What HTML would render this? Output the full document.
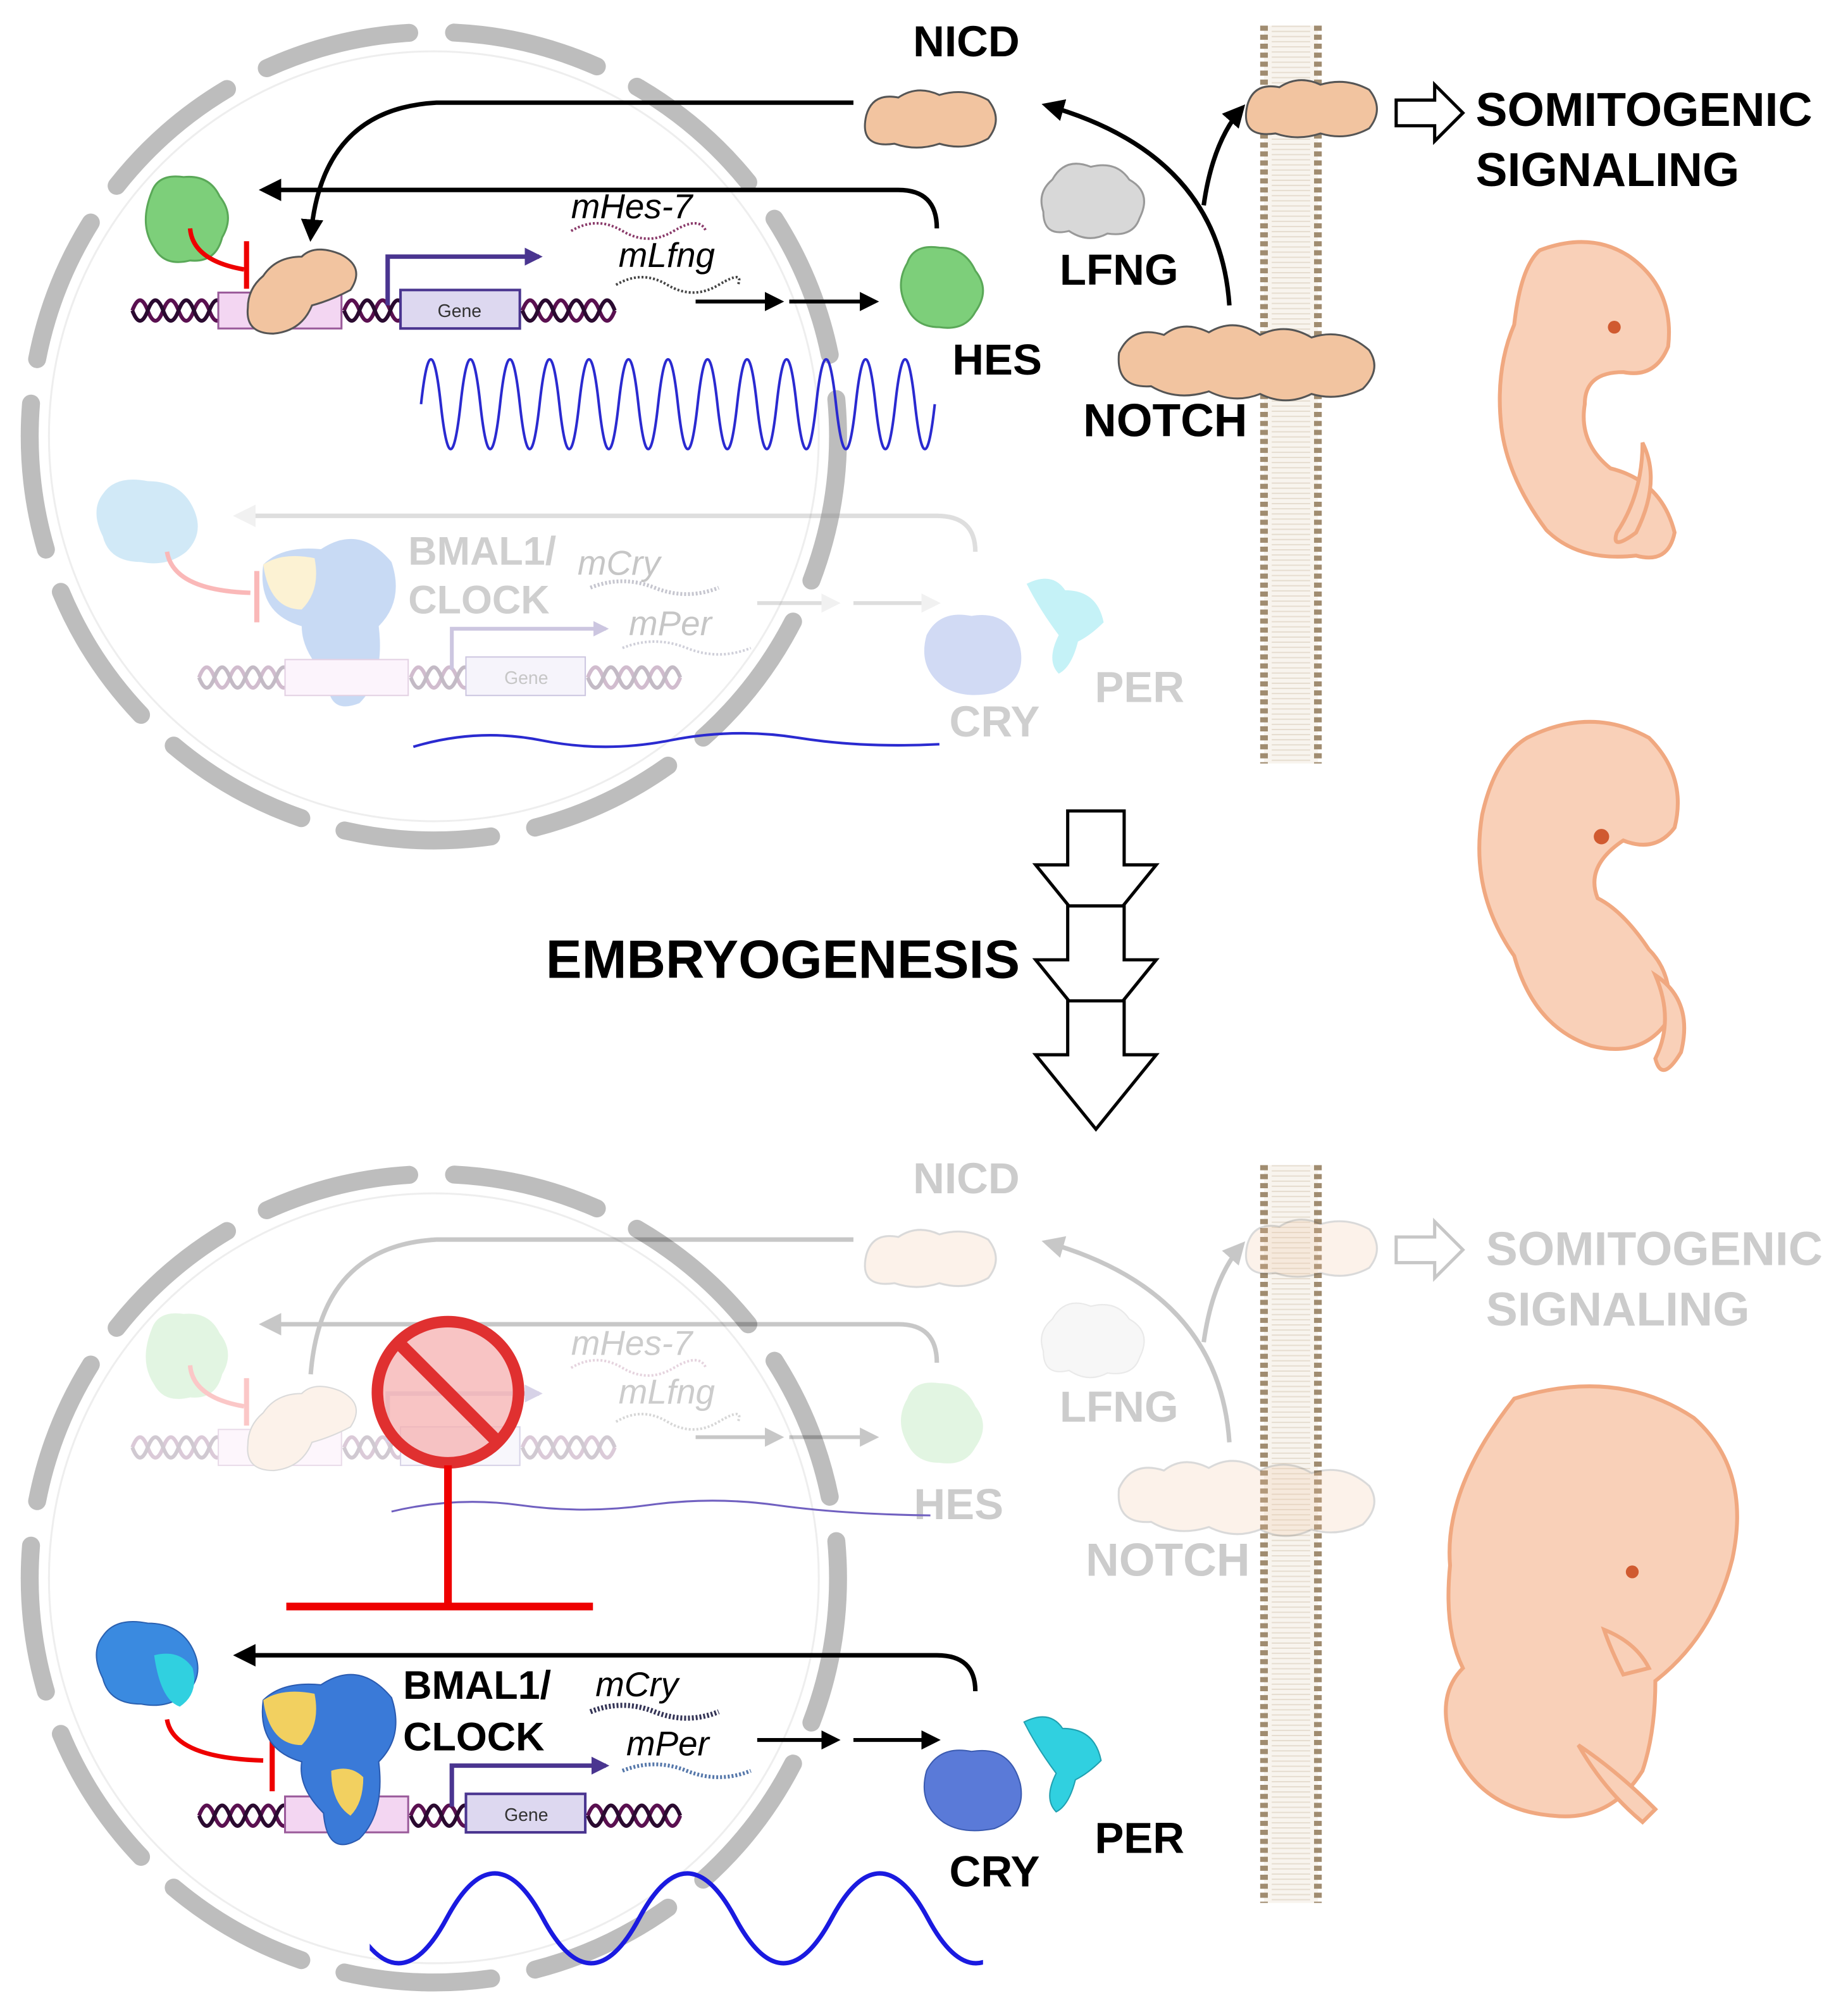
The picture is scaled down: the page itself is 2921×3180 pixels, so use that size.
<!DOCTYPE html>
<html><head><meta charset="utf-8"><style>
html,body{margin:0;padding:0;background:#fff}
svg{display:block}
text{font-family:"Liberation Sans",Arial,sans-serif}
</style></head><body>
<svg width="2921" height="3180" viewBox="0 0 1440 1568" xmlns="http://www.w3.org/2000/svg">
<defs>
<clipPath id="wclip"><rect x="288" y="1440" width="478" height="110"/></clipPath>
<marker id="ah" viewBox="0 0 10 10" refX="8" refY="5" markerWidth="5" markerHeight="5" orient="auto"><path d="M0,0 L10,5 L0,10 z" fill="#000"/></marker>
<marker id="ahg" viewBox="0 0 10 10" refX="8" refY="5" markerWidth="5" markerHeight="5" orient="auto"><path d="M0,0 L10,5 L0,10 z" fill="#ccc"/></marker>
<marker id="ahp" viewBox="0 0 10 10" refX="8" refY="5" markerWidth="4" markerHeight="4" orient="auto"><path d="M0,0 L10,5 L0,10 z" fill="#4a3590"/></marker>
<g id="nuc">
<ellipse cx="0" cy="0" rx="315" ry="315" fill="none" stroke="#bdbdbd" stroke-width="14" stroke-linecap="round" stroke-dasharray="115 35"/>
<ellipse cx="0" cy="0" rx="300" ry="300" fill="none" stroke="#eee" stroke-width="1.5"/>
</g>
<g id="helix">
<path d="M0 0 q6 -16 12 0 t12 0 t12 0 t12 0 t12 0 t12 0" fill="none" stroke="#5a1050" stroke-width="3"/>
<path d="M0 0 q6 16 12 0 t12 0 t12 0 t12 0 t12 0 t12 0" fill="none" stroke="#2a0a30" stroke-width="3"/>
</g>
<g id="membrane">
<rect x="985" y="0" width="42" height="575" fill="#f8f4ee"/>
<line x1="985" y1="0" x2="985" y2="575" stroke="#a08c70" stroke-width="6" stroke-dasharray="4 3"/>
<line x1="1027" y1="0" x2="1027" y2="575" stroke="#a08c70" stroke-width="6" stroke-dasharray="4 3"/>
<line x1="1006" y1="0" x2="1006" y2="575" stroke="#e6ddd0" stroke-width="30" stroke-dasharray="1 3"/>
</g>
<g id="notchblob">
<path d="M0 10 q10 -22 35 -14 q15 -12 35 -2 q20 -12 40 2 q20 -10 40 2 q25 -8 45 10 q10 15 -5 30 q-20 10 -40 4 q-20 10 -40 0 q-20 8 -40 -2 q-25 8 -45 -4 q-28 2 -25 -26z" fill="#f2c4a0" stroke="#555" stroke-width="1.5"/>
</g>
<g id="nicdblob">
<path d="M0 10 q5 -18 25 -14 q15 -10 32 -2 q20 -6 38 4 q12 15 0 30 q-18 10 -38 4 q-18 6 -35 0 q-28 4 -22 -22z" fill="#f2c4a0" stroke="#555" stroke-width="1.5"/>
</g>
</defs>

<use href="#nuc" x="338" y="340"/>
<use href="#membrane" x="0" y="20"/>

<use href="#nicdblob" x="675" y="80"/>
<use href="#nicdblob" x="972" y="72"/>
<use href="#notchblob" x="872" y="265"/>
<text x="753" y="44" font-size="34" font-weight="bold" text-anchor="middle">NICD</text>
<path d="M820 140 q10 -18 30 -10 q20 -5 30 10 q18 10 8 30 q-5 15 -25 12 q-15 8 -30 -2 q-20 5 -20 -15 q-5 -15 7 -25z" fill="#d8d8d8" stroke="#999" stroke-width="1.5"/>
<text x="872" y="222" font-size="34" font-weight="bold" text-anchor="middle">LFNG</text>
<text x="777" y="292" font-size="34" font-weight="bold" text-anchor="middle">HES</text>
<text x="908" y="340" font-size="36" font-weight="bold" text-anchor="middle">NOTCH</text>
<path d="M1088 78 h30 v-12 l22 22 l-22 22 v-12 h-30z" fill="#fff" stroke="#000" stroke-width="2.5"/>
<text x="1150" y="98" font-size="37" font-weight="bold">SOMITOGENIC</text>
<text x="1150" y="145" font-size="37" font-weight="bold">SIGNALING</text>

<path d="M665 80 H340 Q250 85 242 185" fill="none" stroke="#000" stroke-width="3.5" marker-end="url(#ah)"/>
<path d="M958 238 Q950 120 815 82" fill="none" stroke="#000" stroke-width="3.5" marker-end="url(#ah)"/>
<path d="M938 160 Q945 110 968 84" fill="none" stroke="#000" stroke-width="3.5" marker-end="url(#ah)"/>
<path d="M730 178 Q730 148 700 148 H205" fill="none" stroke="#000" stroke-width="3.5" marker-end="url(#ah)"/>
<path d="M542 235 H608" stroke="#000" stroke-width="3" marker-end="url(#ah)"/>
<path d="M615 235 H682" stroke="#000" stroke-width="3" marker-end="url(#ah)"/>

<path d="M118 150 q5 -15 25 -12 q20 -2 28 15 q12 15 2 32 q-5 20 -25 18 q-20 5 -28 -10 q-12 -18 -2 -43z" fill="#7dcf7a" stroke="#5aa858" stroke-width="1.5"/>
<path d="M707 205 q5 -15 25 -12 q20 0 28 18 q12 15 0 32 q-8 15 -28 12 q-18 0 -25 -15 q-10 -18 0 -35z" fill="#7dcf7a" stroke="#5aa858" stroke-width="1.5"/>
<path d="M148 178 Q150 203 190 210" fill="none" stroke="#e00" stroke-width="3.5"/>
<line x1="192" y1="188" x2="192" y2="225" stroke="#e00" stroke-width="4"/>
<use href="#helix" x="103" y="242"/>
<rect x="170" y="228" width="96" height="28" fill="#f3d6f2" stroke="#9a5a9a" stroke-width="1.5"/>
<use href="#helix" x="268" y="242"/>
<rect x="312" y="226" width="93" height="30" fill="#ddd8f0" stroke="#4a3590" stroke-width="2"/>
<text x="358" y="247" font-size="14" text-anchor="middle" fill="#333">Gene</text>
<use href="#helix" x="407" y="242"/>
<path d="M302 238 V200 H420" fill="none" stroke="#4a3590" stroke-width="3.5" marker-end="url(#ahp)"/>
<path d="M205 215 q10 -15 30 -15 q10 -10 30 -2 q20 10 8 28 q-15 8 -30 12 q-8 20 -30 22 q-22 0 -20 -20 q0 -15 12 -25z" fill="#f2c4a0" stroke="#555" stroke-width="1.5"/>
<text x="445" y="170" font-size="27" font-style="italic">mHes-7</text>
<path d="M445 180 q20 -12 40 0 t40 0 t25 0" fill="none" stroke="#8a3a6a" stroke-width="2" stroke-dasharray="1.5 1.5"/>
<text x="482" y="208" font-size="27" font-style="italic">mLfng</text>
<path d="M480 222 q20 -12 40 0 t40 0 t15 0" fill="none" stroke="#444" stroke-width="2" stroke-dasharray="1.5 1.5"/>
<path d="M328 315 q7.7 -70 15.4 0 t15.4 0 t15.4 0 t15.4 0 t15.4 0 t15.4 0 t15.4 0 t15.4 0 t15.4 0 t15.4 0 t15.4 0 t15.4 0 t15.4 0 t15.4 0 t15.4 0 t15.4 0 t15.4 0 t15.4 0 t15.4 0 t15.4 0 t15.4 0 t15.4 0 t15.4 0 t15.4 0 t15.4 0 t15.4 0" fill="none" stroke="#2a2ad0" stroke-width="2"/>

<g opacity="0.28">
<path d="M760 430 Q760 402 730 402 H185" fill="none" stroke="#888" stroke-width="3.5" marker-end="url(#ahg)"/>
<path d="M80 385 q10 -15 35 -10 q25 0 35 20 q10 20 -5 35 q-15 12 -35 8 q-25 0 -30 -20 q-10 -20 0 -33z" fill="#5ab0e0"/>
<path d="M205 440 q15 -15 45 -12 q30 -20 55 10 q10 30 -10 50 q5 40 -15 60 q-25 10 -25 -20 q-20 -20 -20 -40 q-35 -10 -30 -48z" fill="#3a7ad8"/>
<path d="M205 440 q15 -10 40 -5 q5 25 -10 40 q-25 0 -30 -35z" fill="#f2d060"/>
<path d="M130 430 Q135 460 195 462" fill="none" stroke="#e00" stroke-width="3.5"/>
<line x1="200" y1="445" x2="200" y2="485" stroke="#e00" stroke-width="4"/>
<use href="#helix" x="155" y="528"/>
<rect x="222" y="514" width="96" height="28" fill="#f3d6f2" stroke="#9a5a9a"/>
<use href="#helix" x="320" y="528"/>
<rect x="363" y="512" width="93" height="30" fill="#ddd8f0" stroke="#4a3590"/>
<text x="410" y="533" font-size="14" text-anchor="middle" fill="#333">Gene</text>
<use href="#helix" x="458" y="528"/>
<path d="M352 522 V490 H472" fill="none" stroke="#4a3590" stroke-width="3" marker-end="url(#ahp)"/>
<text x="318" y="440" font-size="31" font-weight="bold" fill="#555">BMAL1/</text>
<text x="318" y="478" font-size="31" font-weight="bold" fill="#555">CLOCK</text>
<text x="450" y="448" font-size="27" font-style="italic" fill="#333">mCry</text>
<path d="M460 458 q25 -10 50 0 t50 0" fill="none" stroke="#335" stroke-width="3" stroke-dasharray="1.5 1.5"/>
<text x="490" y="495" font-size="27" font-style="italic" fill="#333">mPer</text>
<path d="M485 505 q25 -10 50 0 t50 0" fill="none" stroke="#557" stroke-width="2" stroke-dasharray="1.5 1.5"/>
<path d="M590 470 H652" stroke="#888" stroke-width="3" marker-end="url(#ahg)"/>
<path d="M665 470 H730" stroke="#888" stroke-width="3" marker-end="url(#ahg)"/>
<path d="M722 495 q10 -20 35 -15 q30 -5 38 25 q5 25 -20 35 q-25 5 -40 -5 q-20 -15 -13 -40z" fill="#5a7ad8"/>
<path d="M800 455 q20 -10 30 5 q25 0 30 25 q-10 10 -20 15 q-5 20 -15 25 q-10 -10 0 -30 q-15 -20 -25 -40z" fill="#30d0e0"/>
<text x="888" y="547" font-size="34" font-weight="bold" text-anchor="middle" fill="#555">PER</text>
<text x="775" y="574" font-size="34" font-weight="bold" text-anchor="middle" fill="#555">CRY</text>
</g>
<path d="M322 582 q50 -15 100 -5 t100 0 t100 -2 t110 5" fill="none" stroke="#2a2ad0" stroke-width="2"/>

<g fill="#fff" stroke="#000" stroke-width="2.5">
<path d="M832 632 h44 v42 h25 l-47 58 l-47 -58 h25z"/>
<path d="M832 706 h44 v42 h25 l-47 58 l-47 -58 h25z"/>
<path d="M832 780 h44 v42 h25 l-47 58 l-47 -58 h25z"/>
</g>
<text x="610" y="762" font-size="42" font-weight="bold" text-anchor="middle">EMBRYOGENESIS</text>

<g fill="#f9d0b8" stroke="#f0a880" stroke-width="3">
<path d="M1200 195 q40 -15 70 5 q35 25 30 70 q-10 25 -35 20 q-30 0 -30 25 q-5 30 20 50 q40 10 50 50 q-5 25 -30 18 q-45 5 -70 -20 q-30 -40 -35 -80 q-5 -45 10 -80 q5 -45 20 -58z"/>
<path d="M1280 345 q15 30 -5 70 q-20 15 -15 0 q20 -30 20 -70z"/>
<path d="M1190 575 q50 -25 95 0 q30 30 20 70 q-15 20 -40 10 q-30 20 -20 45 q20 10 40 40 q20 20 15 55 q-20 30 -60 20 q-45 -15 -60 -70 q-35 -50 -25 -110 q10 -45 35 -60z"/>
<path d="M1290 760 q30 20 20 60 q-15 25 -20 5 q15 -30 0 -65z"/>
<path d="M1180 1090 q80 -25 140 15 q45 40 30 110 q-15 60 -60 95 q0 40 -10 70 q-25 40 -70 35 q-60 -5 -80 -60 q-10 -35 10 -55 q-15 -30 -10 -80 q-5 -60 50 -130z"/>
<path d="M1250 1270 q25 10 35 30 l-20 5 q-10 -20 -15 -35z"/>
<path d="M1230 1360 q30 20 60 50 l-10 10 q-30 -25 -50 -60z"/>
</g>
<circle cx="1258" cy="255" r="5" fill="#d05a30"/>
<circle cx="1248" cy="652" r="6" fill="#d05a30"/>
<circle cx="1272" cy="1225" r="5" fill="#d05a30"/>

<use href="#nuc" x="338" y="1230"/>
<use href="#membrane" x="0" y="908"/>

<g opacity="0.22">
<use href="#nicdblob" x="675" y="968"/>
<use href="#nicdblob" x="972" y="960"/>
<use href="#notchblob" x="872" y="1150"/>
<path d="M820 1028 q10 -18 30 -10 q20 -5 30 10 q18 10 8 30 q-5 15 -25 12 q-15 8 -30 -2 q-20 5 -20 -15 q-5 -15 7 -25z" fill="#d8d8d8" stroke="#999"/>
<path d="M665 966 H340 Q250 971 242 1071" fill="none" stroke="#000" stroke-width="3.5"/>
<path d="M958 1124 Q950 1006 815 968" fill="none" stroke="#000" stroke-width="3.5" marker-end="url(#ah)"/>
<path d="M938 1046 Q945 996 968 970" fill="none" stroke="#000" stroke-width="3.5" marker-end="url(#ah)"/>
<path d="M730 1062 Q730 1032 700 1032 H205" fill="none" stroke="#000" stroke-width="3.5" marker-end="url(#ah)"/>
<path d="M542 1120 H608" stroke="#000" stroke-width="3" marker-end="url(#ah)"/>
<path d="M615 1120 H682" stroke="#000" stroke-width="3" marker-end="url(#ah)"/>
<path d="M118 1036 q5 -15 25 -12 q20 -2 28 15 q12 15 2 32 q-5 20 -25 18 q-20 5 -28 -10 q-12 -18 -2 -43z" fill="#7dcf7a"/>
<path d="M707 1090 q5 -15 25 -12 q20 0 28 18 q12 15 0 32 q-8 15 -28 12 q-18 0 -25 -15 q-10 -18 0 -35z" fill="#7dcf7a"/>
<path d="M148 1064 Q150 1089 190 1096" fill="none" stroke="#e00" stroke-width="3.5"/>
<line x1="192" y1="1074" x2="192" y2="1111" stroke="#e00" stroke-width="4"/>
<use href="#helix" x="103" y="1128"/>
<rect x="170" y="1114" width="96" height="28" fill="#f3d6f2" stroke="#9a5a9a"/>
<use href="#helix" x="268" y="1128"/>
<rect x="312" y="1112" width="93" height="30" fill="#ddd8f0" stroke="#4a3590"/>
<use href="#helix" x="407" y="1128"/>
<path d="M302 1124 V1086 H420" fill="none" stroke="#4a3590" stroke-width="3.5" marker-end="url(#ahp)"/>
<path d="M205 1101 q10 -15 30 -15 q10 -10 30 -2 q20 10 8 28 q-15 8 -30 12 q-8 20 -30 22 q-22 0 -20 -20 q0 -15 12 -25z" fill="#f2c4a0" stroke="#555"/>
<path d="M445 1066 q20 -12 40 0 t40 0 t25 0" fill="none" stroke="#8a3a6a" stroke-width="2" stroke-dasharray="1.5 1.5"/>
<path d="M480 1108 q20 -12 40 0 t40 0 t15 0" fill="none" stroke="#444" stroke-width="2" stroke-dasharray="1.5 1.5"/>
<path d="M1088 964 h30 v-12 l22 22 l-22 22 v-12 h-30z" fill="#fff" stroke="#000" stroke-width="2.5"/>
</g>
<g fill="#ccc" font-weight="bold">
<text x="753" y="930" font-size="34" text-anchor="middle">NICD</text>
<text x="872" y="1108" font-size="34" text-anchor="middle">LFNG</text>
<text x="747" y="1184" font-size="34" text-anchor="middle">HES</text>
<text x="910" y="1228" font-size="36" text-anchor="middle">NOTCH</text>
<text x="1158" y="986" font-size="37">SOMITOGENIC</text>
<text x="1158" y="1033" font-size="37">SIGNALING</text>
</g>
<g fill="#ccc" font-style="italic" font-size="27">
<text x="445" y="1056">mHes-7</text>
<text x="482" y="1094">mLfng</text>
</g>
<path d="M305 1178 q50 -12 100 -5 t100 0 t100 0 t120 8" fill="none" stroke="#7060c0" stroke-width="1.5"/>

<circle cx="349" cy="1085" r="55" fill="#f6b0b0" fill-opacity="0.75" stroke="#e03030" stroke-width="9"/>
<line x1="311" y1="1047" x2="387" y2="1123" stroke="#e03030" stroke-width="10"/>
<line x1="349" y1="1142" x2="349" y2="1252" stroke="#e00" stroke-width="6"/>
<line x1="223" y1="1252" x2="462" y2="1252" stroke="#e00" stroke-width="6"/>

<path d="M760 1318 Q760 1290 730 1290 H185" fill="none" stroke="#000" stroke-width="3.5" marker-end="url(#ah)"/>
<path d="M80 1275 q10 -15 35 -10 q25 0 35 20 q10 20 -5 35 q-15 12 -35 8 q-25 0 -30 -20 q-10 -20 0 -33z" fill="#3a8ae0" stroke="#2a60b0"/>
<path d="M120 1290 q20 -5 30 10 q5 20 -10 30 q-15 -5 -20 -40z" fill="#30d0e0"/>
<path d="M130 1340 Q135 1370 205 1372" fill="none" stroke="#e00" stroke-width="3.5"/>
<line x1="212" y1="1355" x2="212" y2="1396" stroke="#e00" stroke-width="4"/>
<use href="#helix" x="155" y="1415"/>
<rect x="222" y="1400" width="96" height="28" fill="#f3d6f2" stroke="#9a5a9a" stroke-width="1.5"/>
<use href="#helix" x="320" y="1415"/>
<rect x="363" y="1398" width="93" height="30" fill="#ddd8f0" stroke="#4a3590" stroke-width="2"/>
<text x="410" y="1419" font-size="14" text-anchor="middle" fill="#333">Gene</text>
<use href="#helix" x="458" y="1415"/>
<path d="M352 1408 V1376 H472" fill="none" stroke="#4a3590" stroke-width="3.5" marker-end="url(#ahp)"/>
<path d="M205 1325 q15 -15 45 -12 q30 -20 55 10 q10 30 -10 50 q5 40 -15 60 q-25 15 -28 -20 q-20 -20 -17 -40 q-35 -10 -30 -48z" fill="#3a7ad8" stroke="#2a5ab0"/>
<path d="M205 1325 q15 -10 40 -5 q5 25 -10 40 q-25 0 -30 -35z" fill="#f2d060"/>
<path d="M258 1380 q15 -5 25 5 q0 20 -10 30 q-15 -10 -15 -35z" fill="#f2d060"/>
<text x="314" y="1324" font-size="31" font-weight="bold">BMAL1/</text>
<text x="314" y="1364" font-size="31" font-weight="bold">CLOCK</text>
<text x="464" y="1322" font-size="27" font-style="italic">mCry</text>
<path d="M460 1334 q25 -10 50 0 t50 0" fill="none" stroke="#335" stroke-width="4" stroke-dasharray="1.5 1.5"/>
<text x="488" y="1368" font-size="27" font-style="italic">mPer</text>
<path d="M485 1380 q25 -10 50 0 t50 0" fill="none" stroke="#57a" stroke-width="3" stroke-dasharray="1.5 1.5"/>
<path d="M590 1356 H652" stroke="#000" stroke-width="3" marker-end="url(#ah)"/>
<path d="M665 1356 H730" stroke="#000" stroke-width="3" marker-end="url(#ah)"/>
<path d="M722 1380 q10 -20 35 -15 q30 -5 38 25 q5 25 -20 35 q-25 5 -40 -5 q-20 -15 -13 -40z" fill="#5a7ad8" stroke="#3a5ab0"/>
<path d="M798 1342 q20 -10 30 5 q25 0 30 25 q-10 10 -20 15 q-5 20 -15 25 q-10 -10 0 -30 q-15 -20 -25 -40z" fill="#30d0e0" stroke="#20a0b0"/>
<text x="888" y="1444" font-size="34" font-weight="bold" text-anchor="middle">PER</text>
<text x="775" y="1470" font-size="34" font-weight="bold" text-anchor="middle">CRY</text>
<path clip-path="url(#wclip)" d="M273 1495 q37.5 70 75 0 t75 0 t75 0 t75 0 t75 0 t75 0 t75 0" fill="none" stroke="#1a1ae0" stroke-width="3.5"/>
</svg>
</body></html>
